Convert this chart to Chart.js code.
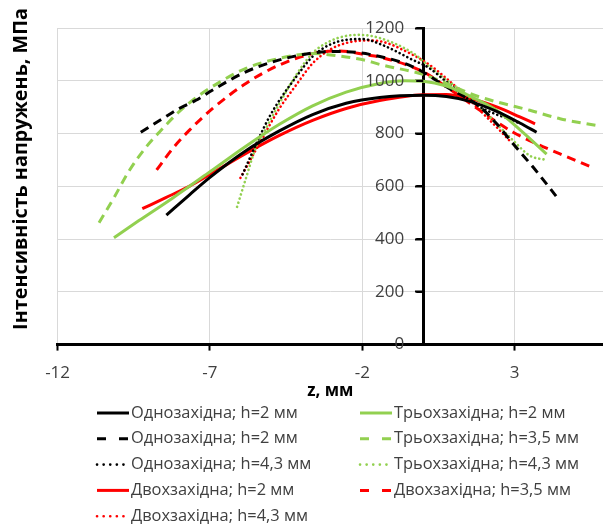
<!DOCTYPE html>
<html>
<head>
<meta charset="utf-8">
<script src="https://cdn.jsdelivr.net/npm/chart.js@4.4.1/dist/chart.umd.min.js"></script>
<style>
  html, body { margin: 0; padding: 0; background: #ffffff; }
  #wrap { width: 603px; height: 529px; position: relative; }
</style>
</head>
<body>
<div id="wrap"><canvas id="chart" width="603" height="529"></canvas></div>
<script>
// Axis ticks
const xTicks = [-12, -7, -2, 3];
const yTicks = [0, 200, 400, 600, 800, 1000, 1200];

// Series names (legend text, as printed)
const seriesLabels = [
  'Однозахідна; h=2 мм',
  'Трьохзахідна; h=2 мм',
  'Однозахідна; h=2 мм',
  'Трьохзахідна; h=3,5 мм',
  'Однозахідна; h=4,3 мм',
  'Трьохзахідна; h=4,3 мм',
  'Двохзахідна; h=2 мм',
  'Двохзахідна; h=3,5 мм',
  'Двохзахідна; h=4,3 мм'
];

// Однозахідна, h=2 мм
const odno2Z = [-8.43, -7.68, -7.0, -5.82, -4.72, -3.63, -2.53, -1.43, 0, 0.76, 1.53, 2.41, 3.17, 3.72];
const odno2S = [491, 567, 634, 735, 810, 872, 915, 937, 945, 940, 922, 884, 840, 805];

// Трьохзахідна, h=2 мм
const trio2Z = [-10.15, -9.33, -8.23, -7.0, -5.82, -4.72, -3.63, -2.53, -1.43, -0.6, 0, 0.76, 1.53, 2.41, 3.17, 4.05];
const trio2S = [405, 470, 555, 655, 752, 835, 905, 957, 990, 1000, 998, 980, 942, 888, 815, 722];

// Однозахідна, h=3,5 мм
const odno35Z = [-9.27, -8.56, -8.01, -7.46, -6.91, -5.82, -4.72, -3.63, -2.75, -1.76, -0.34, 0.76, 1.86, 2.41, 2.95, 3.61, 4.36];
const odno35S = [805, 856, 895, 926, 965, 1034, 1079, 1105, 1111, 1100, 1053, 977, 901, 837, 761, 672, 563];

// Трьохзахідна, h=3,5 мм
const trio35Z = [-10.64, -10.15, -9.65, -9.1, -8.56, -8.01, -7.35, -6.75, -5.82, -4.72, -3.63, -2.75, -1.87, -1.43, 0, 0.76, 1.64, 2.41, 3.5, 4.49, 5.66];
const trio35S = [462, 557, 659, 748, 818, 883, 945, 990, 1047, 1085, 1103, 1094, 1077, 1062, 1024, 990, 947, 920, 888, 856, 831];

// Однозахідна, h=4,3 мм
const odno43Z = [-5.93, -5.38, -5.05, -4.72, -4.17, -3.63, -3.08, -2.53, -1.98, -1.43, -0.34, 0.21, 0.76, 1.31, 1.86, 2.41, 2.95, 3.2];
const odno43S = [645, 786, 863, 926, 1015, 1092, 1136, 1155, 1158, 1140, 1079, 1047, 996, 945, 901, 872, 850, 835];

// Трьохзахідна, h=4,3 мм
const trio43Z = [-6.11, -5.82, -5.49, -5.16, -4.72, -4.17, -3.63, -3.08, -2.53, -2.09, -1.43, -0.34, 0.21, 0.76, 1.31, 1.86, 2.41, 2.95, 3.5, 4.03];
const trio43S = [522, 630, 748, 820, 914, 1022, 1105, 1149, 1170, 1174, 1162, 1105, 1053, 1003, 958, 901, 837, 774, 716, 700];

// Двохзахідна, h=2 мм
const dvo2Z = [-9.22, -8.45, -7.68, -7.0, -5.82, -4.72, -3.63, -2.53, -1.43, 0, 0.76, 1.53, 2.41, 3.17, 3.67];
const dvo2S = [515, 557, 600, 645, 725, 793, 850, 895, 925, 947, 948, 933, 901, 863, 837];

// Двохзахідна, h=3,5 мм
const dvo35Z = [-8.75, -8.23, -7.68, -6.91, -5.82, -4.72, -3.63, -2.75, -1.87, -1.43, 0, 0.76, 1.31, 1.86, 2.41, 2.95, 3.72, 4.49, 5.53];
const dvo35S = [662, 742, 812, 895, 990, 1060, 1103, 1113, 1098, 1090, 1034, 977, 933, 888, 844, 805, 761, 723, 672];

// Двохзахідна, h=4,3 мм
const dvo43Z = [-6.0, -5.38, -4.72, -4.17, -3.63, -3.08, -2.53, -1.87, -1.43, -0.34, 0.21, 0.76, 1.31, 1.86, 2.41, 2.9];
const dvo43S = [632, 761, 895, 984, 1066, 1117, 1143, 1153, 1150, 1098, 1060, 1009, 952, 888, 824, 765];

const pts = (zs, ss) => zs.map((z, i) => ({ x: z, y: ss[i] }));

const BLACK = '#000000', GREEN = '#92D050', RED = '#FF0000';
const solid = { borderWidth: 3, borderDash: [], legendDash: [] };
const dashed = { borderWidth: 3, borderDash: [9, 6], legendDash: [9, 13] };
const dotted = { borderWidth: 2.6, borderDash: [0.1, 4.2], borderCapStyle: 'round', legendDash: [0.1, 6.5] };

function series(i, zs, ss, color, style) {
  return Object.assign({
    label: seriesLabels[i],
    data: pts(zs, ss),
    borderColor: color,
    backgroundColor: color,
    pointRadius: 0,
    pointHoverRadius: 0,
    fill: false,
    cubicInterpolationMode: 'monotone'
  }, style);
}

const datasets = [
  series(0, odno2Z, odno2S, BLACK, solid),
  series(1, trio2Z, trio2S, GREEN, solid),
  series(2, odno35Z, odno35S, BLACK, dashed),
  series(3, trio35Z, trio35S, GREEN, dashed),
  series(4, odno43Z, odno43S, BLACK, dotted),
  series(5, trio43Z, trio43S, GREEN, dotted),
  series(6, dvo2Z, dvo2S, RED, solid),
  series(7, dvo35Z, dvo35S, RED, dashed),
  series(8, dvo43Z, dvo43S, RED, dotted)
];

// Two-column legend under the plot
const gridLegend = {
  id: 'gridLegend',
  afterDraw(chart, args, opts) {
    const ctx = chart.ctx;
    ctx.save();
    ctx.font = opts.font;
    ctx.textBaseline = 'middle';
    ctx.textAlign = 'left';
    chart.data.datasets.forEach((d, i) => {
      const col = i % opts.columns.length;
      const row = Math.floor(i / opts.columns.length);
      const x = opts.columns[col];
      const y = opts.top + row * opts.rowGap;
      ctx.beginPath();
      ctx.strokeStyle = d.borderColor;
      ctx.lineWidth = d.borderWidth;
      ctx.lineCap = d.borderCapStyle || 'butt';
      ctx.setLineDash(d.legendDash || []);
      ctx.moveTo(x, y);
      ctx.lineTo(x + opts.sample, y);
      ctx.stroke();
      ctx.setLineDash([]);
      ctx.fillStyle = opts.color;
      ctx.fillText(d.label, x + opts.sample + opts.gap, y + opts.textShift);
    });
    ctx.restore();
  }
};

// Tick marks and value labels beside the vertical axis that crosses at z = 0
const yTickLabels = {
  id: 'yTickLabels',
  afterDraw(chart, args, opts) {
    const ctx = chart.ctx;
    const ys = chart.scales.y;
    const axisX = chart.scales.x.getPixelForValue(0);
    ctx.save();
    ctx.strokeStyle = opts.markColor;
    ctx.lineWidth = opts.markWidth;
    ys.ticks.forEach(t => {
      const py = Math.round(ys.getPixelForValue(t.value));
      ctx.beginPath();
      ctx.moveTo(axisX - opts.markLength, py);
      ctx.lineTo(axisX, py);
      ctx.stroke();
    });
    ctx.font = opts.font;
    ctx.fillStyle = opts.color;
    ctx.textAlign = 'right';
    ctx.textBaseline = 'middle';
    ys.ticks.forEach(t => {
      ctx.fillText(String(t.value), axisX - opts.offset, ys.getPixelForValue(t.value));
    });
    ctx.restore();
  }
};

// Rotated value-axis caption at the far left
const sideTitle = {
  id: 'sideTitle',
  afterDraw(chart, args, opts) {
    const ctx = chart.ctx;
    ctx.save();
    ctx.translate(opts.x, opts.y);
    ctx.rotate(-Math.PI / 2);
    ctx.font = opts.font;
    ctx.fillStyle = opts.color;
    ctx.textAlign = 'center';
    ctx.textBaseline = 'middle';
    ctx.fillText(opts.text, 0, 0);
    ctx.restore();
  }
};

const tickFont = { family: 'Open Sans', size: 17 };

new Chart(document.getElementById('chart'), {
  type: 'line',
  data: { datasets },
  plugins: [gridLegend, yTickLabels, sideTitle],
  options: {
    responsive: false,
    animation: false,
    devicePixelRatio: 1,
    layout: { padding: { left: 57.6, top: 28, right: 0, bottom: 129 } },
    plugins: {
      legend: { display: false },
      tooltip: { enabled: false },
      gridLegend: {
        font: '16.4px "Open Sans"',
        color: '#404040',
        columns: [97, 360],
        top: 413,
        rowGap: 25.8,
        sample: 32,
        gap: 2,
        textShift: 0
      },
      yTickLabels: {
        font: '17px "Open Sans"',
        color: '#404040',
        offset: 19,
        markLength: 7,
        markWidth: 2,
        markColor: '#000000'
      },
      sideTitle: {
        text: 'Інтенсивність напружень, МПа',
        x: 21,
        y: 169,
        font: 'bold 19.8px "Open Sans"',
        color: '#000000'
      }
    },
    scales: {
      x: {
        type: 'linear',
        min: -12,
        max: 5.9,
        afterBuildTicks: ax => { ax.ticks = xTicks.map(v => ({ value: v })); },
        grid: { color: '#d9d9d9', lineWidth: 1, tickColor: '#000000', tickLength: 6, tickWidth: 2 },
        border: { color: '#000000', width: 3 },
        ticks: { font: tickFont, color: '#404040', padding: 12, maxRotation: 0, autoSkip: false },
        title: {
          display: true,
          text: 'z, мм',
          color: '#000000',
          font: { family: 'Open Sans', size: 17, weight: 'bold', lineHeight: 1 },
          padding: { top: -12, bottom: 0 }
        }
      },
      y: {
        type: 'linear',
        position: { x: 0 },
        min: 0,
        max: 1200,
        afterBuildTicks: ax => { ax.ticks = yTicks.map(v => ({ value: v })); },
        grid: { color: '#d9d9d9', lineWidth: 1, tickColor: '#000000', tickLength: 7, tickWidth: 2 },
        border: { color: '#000000', width: 3 },
        ticks: { display: false }
      }
    }
  }
});
</script>
</body>
</html>
